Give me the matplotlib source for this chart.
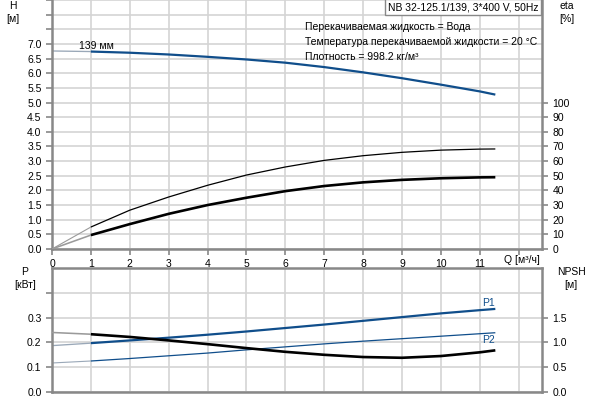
import numpy as np
import matplotlib
matplotlib.use("Agg")
import matplotlib.pyplot as plt

plt.rcParams['font.family'] = ['Liberation Sans', 'DejaVu Sans']
plt.rcParams['font.size'] = 7.5

# ---------------- data ----------------
q = [0, 1, 2, 3, 4, 5, 6, 7, 8, 9, 10, 11, 11.4]
h = [6.76, 6.74, 6.70, 6.64, 6.56, 6.47, 6.36, 6.21, 6.03, 5.83, 5.61, 5.38, 5.27]
eta_thin = [0, 15, 26.5, 35.5, 43.5, 50.5, 56, 60.5, 63.7, 66, 67.5, 68.2, 68.3]
eta_thick = [0, 9.5, 17, 24, 30, 35, 39.5, 43, 45.5, 47.2, 48.3, 48.9, 49]
p1 = [0.187, 0.197, 0.208, 0.219, 0.231, 0.244, 0.258, 0.272, 0.287, 0.302, 0.317, 0.330, 0.335]
p2 = [0.117, 0.125, 0.135, 0.146, 0.157, 0.170, 0.182, 0.194, 0.205, 0.215, 0.225, 0.235, 0.239]
npsh = [1.20, 1.165, 1.11, 1.04, 0.965, 0.885, 0.81, 0.75, 0.705, 0.69, 0.725, 0.80, 0.84]

h_ticks = np.arange(0, 7.01, 0.5)
eta_ticks = np.arange(0, 101, 10)
p_ticks = [0.0, 0.1, 0.2, 0.3]
npsh_ticks = [0.0, 0.5, 1.0, 1.5]
q_ticks = list(range(0, 12))

title = "NB 32-125.1/139, 3*400 V, 50Hz"
info = ["Перекачиваемая жидкость = Вода",
        "Температура перекачиваемой жидкости = 20 °C",
        "Плотность = 998.2 кг/м³"]

BLUE = '#104e8b'
BLUE_L = '#9aa8b8'
BLACK = '#000000'
BLACK_L = '#9a9a9a'
SPINE = '#888888'
GRID = '#d4d4d4'


def two_tone(ax, x, y, dark, light, lw):
    # extrapolated part (0..1) drawn light, operating range drawn dark
    ax.plot(x[:2], y[:2], color=light, lw=max(lw * 0.6, 0.8), solid_capstyle='butt')
    ax.plot(x[1:], y[1:], color=dark, lw=lw, solid_capstyle='butt')


def style(ax):
    for s in ['left', 'right', 'bottom', 'top']:
        ax.spines[s].set_color(SPINE)
        ax.spines[s].set_linewidth(1.8)
    ax.tick_params(colors=SPINE, labelcolor='black', length=4, width=1.2)
    ax.grid(True, color=GRID, lw=1.2)
    ax.set_axisbelow(True)


fig = plt.figure(figsize=(6, 4), dpi=100)

# ---------------- top panel: H and eta ----------------
ax1 = fig.add_axes([52 / 600, 1 - 249 / 400, 490 / 600, 249 / 400])
style(ax1)
ax1.spines['top'].set_visible(False)
ax1.set_xlim(0, 12.6)
ax1.set_ylim(0, 8.5)
ax1.set_xticks(range(0, 13))
ax1.set_xticklabels([str(v) for v in q_ticks] + [''])
ax1.set_yticks(np.arange(0, 8.51, 0.5))
ax1.set_yticklabels(['%.1f' % v for v in h_ticks] + ['', '', ''])

ax1r = ax1.twinx()
ax1r.set_ylim(0, 170)
ax1r.set_yticks(eta_ticks)
ax1r.tick_params(colors=SPINE, labelcolor='black', length=4, width=1.2)
for s in ax1r.spines.values():
    s.set_visible(False)

two_tone(ax1, q, h, BLUE, BLUE_L, 1.6)
two_tone(ax1r, q, eta_thin, BLACK, BLACK_L, 0.9)
two_tone(ax1r, q, eta_thick, BLACK, BLACK_L, 1.9)

ax1.text(1.15, 6.93, "139 мм", ha='center', va='center')
for i, line in enumerate(info):
    ax1.text(6.5, 7.58 - i * 0.51, line, ha='left', va='center')
ax1.text(12.08, -0.36, "Q [м³/ч]", ha='center', va='center')
fig.text(538 / 600, 1 - 7 / 400, title, ha='right', va='center',
         bbox=dict(boxstyle='square,pad=0.25', fc='white', ec=SPINE, lw=1))

fig.text(13 / 600, 1 - 6 / 400, "H", ha='center', va='center')
fig.text(13 / 600, 1 - 19 / 400, "[м]", ha='center', va='center')
fig.text(567 / 600, 1 - 6 / 400, "eta", ha='center', va='center')
fig.text(567 / 600, 1 - 19 / 400, "[%]", ha='center', va='center')

# ---------------- bottom panel: P and NPSH ----------------
ax2 = fig.add_axes([52 / 600, 1 - 392 / 400, 490 / 600, 124 / 400])
style(ax2)
ax2.set_xlim(0, 12.6)
ax2.set_ylim(0, 0.5)
ax2.set_xticks(range(0, 13))
ax2.tick_params(axis='x', length=0, labelbottom=False)
ax2.set_yticks([0, 0.1, 0.2, 0.3, 0.4])
ax2.set_yticklabels(['%.1f' % v for v in p_ticks] + [''])

ax2r = ax2.twinx()
ax2r.set_ylim(0, 2.5)
ax2r.set_yticks(npsh_ticks)
ax2r.tick_params(colors=SPINE, labelcolor='black', length=4, width=1.2)
for s in ax2r.spines.values():
    s.set_visible(False)

two_tone(ax2, q, p1, BLUE, BLUE_L, 1.6)
two_tone(ax2, q, p2, BLUE, BLUE_L, 0.9)
two_tone(ax2r, q, npsh, BLACK, BLACK_L, 1.9)

ax2.text(11.23, 0.36, "P1", ha='center', va='center', color=BLUE)
ax2.text(11.23, 0.208, "P2", ha='center', va='center', color=BLUE)

fig.text(25 / 600, 1 - 272 / 400, "P", ha='center', va='center')
fig.text(25 / 600, 1 - 285 / 400, "[кВт]", ha='center', va='center')
fig.text(571 / 600, 1 - 272 / 400, "NPSH", ha='center', va='center')
fig.text(571 / 600, 1 - 285 / 400, "[м]", ha='center', va='center')

fig.savefig("out.png", dpi=100)
